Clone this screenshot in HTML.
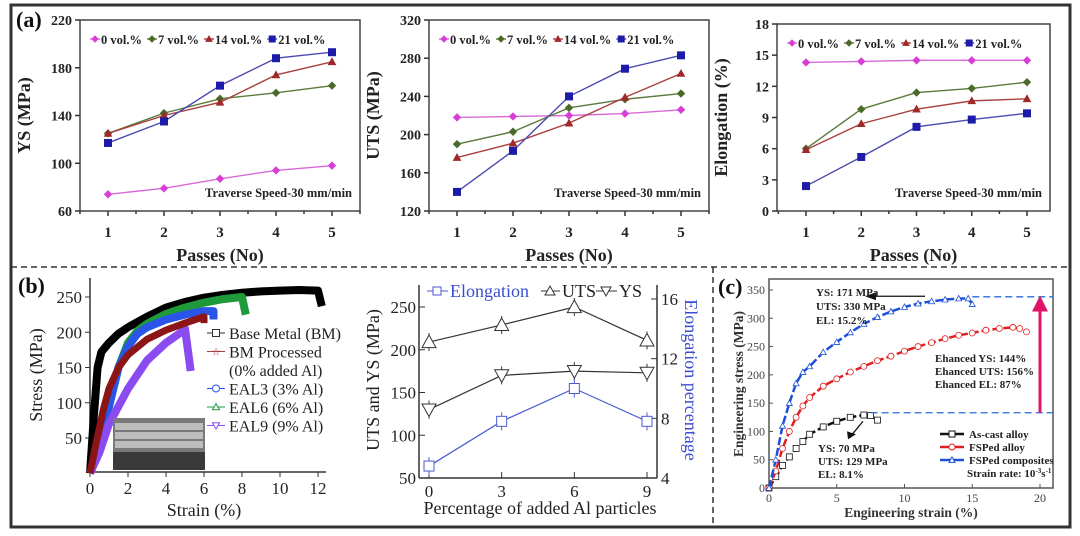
<!DOCTYPE html>
<html><head><meta charset="utf-8">
<style>
html,body{margin:0;padding:0;background:#fff;}
svg{display:block;font-family:"Liberation Serif",serif;}
</style></head>
<body>
<svg id="fig" width="1080" height="536" viewBox="0 0 1080 536" xmlns="http://www.w3.org/2000/svg">
<rect x="11" y="5" width="1059" height="522" fill="none" stroke="#333" stroke-width="3"/>
<line x1="11" y1="267" x2="1070" y2="267" stroke="#333" stroke-width="1.5" stroke-dasharray="6,4"/>
<line x1="713" y1="267" x2="713" y2="527" stroke="#333" stroke-width="1.5" stroke-dasharray="6,4"/>
<g id="root"></g>
</svg>
<script>
// ---------- Panel (a) data ----------
const passes = [1,2,3,4,5];
const seriesNames = ["0 vol.%","7 vol.%","14 vol.%","21 vol.%"];
const ys0 = [74,79,87,94,98];
const ys7 = [125,142,154,159,165];
const ys14 = [125,140,151,174,185];
const ys21 = [117,135,165,188,193];
const uts0 = [218,219,220,222,226];
const uts7 = [190,203,228,237,243];
const uts14 = [176,191,212,239,264];
const uts21 = [140,183,240,269,283];
const el0 = [14.3,14.4,14.5,14.5,14.5];
const el7 = [6.0,9.8,11.4,11.8,12.4];
const el14 = [5.9,8.4,9.8,10.6,10.8];
const el21 = [2.4,5.2,8.1,8.8,9.4];
const ysTicks = [60,100,140,180,220];
const utsTicks = [120,160,200,240,280,320];
const elTicks = [0,3,6,9,12,15,18];
// ---------- Panel (b) data ----------
const bmCurve = [[0,0],[0.2,80],[0.4,150],[0.6,172],[1,185],[1.5,198],[2,207],[3,222],[4,235],[5,243],[6,249],[7,253],[8,256],[9,258],[10,259],[11,260],[12,259],[12.2,237]];
const eal6Curve = [[0,0],[0.5,40],[1,95],[1.5,150],[2,185],[2.5,202],[3,212],[4,226],[5,235],[6,242],[7,247],[8,250],[8.2,225]];
const eal3Curve = [[0,0],[0.5,40],[1,95],[1.5,150],[2,180],[2.5,198],[3,207],[4,218],[5,225],[6,230],[6.5,230],[6.5,218]];
const bmpCurve = [[0,0],[0.3,40],[0.7,90],[1,120],[1.5,150],[2,168],[3,190],[4,203],[5,213],[6,222],[6,213]];
const eal9Curve = [[0,0],[0.5,30],[1,70],[2,120],[3,160],[4,185],[4.8,200],[5,205],[5.3,145]];
const strainTicks = [0,2,4,6,8,10,12];
const stressTicks = [50,100,150,200,250];
const alPct = [0,3,6,9];
const utsAl = [209,229,250,211];
const ysAl = [130,170,175,173];
const elAl = [4.8,7.8,10.0,7.8];
const leftTicksB = [50,100,150,200,250];
const rightTicksB = [4,8,12,16];
// ---------- Panel (c) data ----------
const compCurve = [[0,0],[0.5,50],[1,110],[1.5,150],[2,185],[2.5,205],[3,215],[4,240],[5,258],[6,275],[7,290],[8,302],[9,312],[10,320],[11,326],[12,330],[13,333],[14,335],[14.7,335],[15,325]];
const fspCurve = [[0,0],[0.5,30],[1,70],[1.5,100],[2,125],[2.5,145],[3,160],[4,180],[5,193],[6,205],[7,215],[8,225],[9,233],[10,242],[11,250],[12,257],[13,264],[14,270],[15,274],[16,279],[17,282],[18,284],[18.5,282],[19,276]];
const castCurve = [[0,0],[0.5,20],[1,40],[1.5,55],[2,70],[2.5,82],[3,95],[4,108],[5,118],[6,125],[7,129],[7.5,128],[8,120]];
const engStrainTicks = [0,5,10,15,20];
const engStressTicks = [0,50,100,150,200,250,300,350];

const NS="http://www.w3.org/2000/svg";
const root=document.getElementById('root');
function mk(tag,attrs,parent){const e=document.createElementNS(NS,tag);for(const k in attrs)e.setAttribute(k,attrs[k]);(parent||root).appendChild(e);return e;}
function txt(x,y,s,attrs,parent){const e=mk('text',Object.assign({x:x,y:y},attrs),parent);e.textContent=s;return e;}
function lin(d0,d1,r0,r1){return v=>r0+(v-d0)*(r1-r0)/(d1-d0);}
function marker(g,shape,x,y,color,size,fill){
  let e;
  if(shape==='diamond'){e=mk('path',{d:`M${x} ${y-size}L${x+size} ${y}L${x} ${y+size}L${x-size} ${y}Z`,fill:fill||color,stroke:color},g);}
  else if(shape==='square'){e=mk('rect',{x:x-size,y:y-size,width:2*size,height:2*size,fill:fill||color,stroke:color},g);}
  else if(shape==='tri'){e=mk('path',{d:`M${x} ${y-size}L${x+size} ${y+size*0.8}L${x-size} ${y+size*0.8}Z`,fill:fill||color,stroke:color},g);}
  else if(shape==='tridown'){e=mk('path',{d:`M${x} ${y+size}L${x+size} ${y-size*0.8}L${x-size} ${y-size*0.8}Z`,fill:fill||color,stroke:color},g);}
  else {e=mk('circle',{cx:x,cy:y,r:size,fill:fill||color,stroke:color},g);}
  return e;
}

// ---------- Panel (a) ----------
const aColors=['#d63fd6','#4a6a2a','#a02828','#1c1ca8'];
const aLine=['#d86ad8','#5b7a3b','#a84040','#4a4ab0'];
const aShapes=['diamond','diamond','tri','square'];
function panelA(name,box,yd,ticks,ylabel,data){
  const g=mk('g',{});
  
  
  const X=lin(1,5,box.x1,box.x5), Y=lin(yd[0],yd[1],box.b,box.t);
  const fr=mk('rect',{x:box.l,y:box.t,width:box.r-box.l,height:box.b-box.t,fill:'none',stroke:'#444','stroke-width':1.5},g);
  
  
  ticks.forEach(t=>{
    mk('line',{x1:box.l-5,x2:box.l,y1:Y(t),y2:Y(t),stroke:'#333','stroke-width':1.5},g);
    const tl=txt(box.l-8,Y(t)+5,t,{'text-anchor':'end','font-size':14,'font-weight':'bold',fill:'#222'},g);
    
    
  });
  for(let i=0;i<=10;i++){const xv=0.5+i*0.5;const xx=X(xv);if(xx<box.l-1||xx>box.r+1)continue;mk('line',{x1:xx,x2:xx,y1:box.b,y2:box.b+(i%2?5:3),stroke:'#333','stroke-width':1.5},g);}
  passes.forEach(p=>{
    const tl=txt(X(p),box.b+26,p,{'text-anchor':'middle','font-size':15,'font-weight':'bold',fill:'#222'},g);
    
    
  });
  const xt=txt((box.l+box.r)/2,box.b+50,'Passes (No)',{'text-anchor':'middle','font-size':18,'font-weight':'bold',fill:'#222'},g);
  
  
  const yx=box.l-50, yy=(box.t+box.b)/2;
  const yt=txt(yx,yy,ylabel,{'text-anchor':'middle','font-size':18,'font-weight':'bold',fill:'#222',transform:`rotate(-90 ${yx} ${yy})`},g);
  
  
  data.forEach((arr,si)=>{
    const pts=arr.map((v,i)=>`${X(passes[i])},${Y(v)}`).join(' ');
    const pl=mk('polyline',{points:pts,fill:'none',stroke:aLine[si],'stroke-width':1.4},g);
    
    
    arr.forEach((v,i)=>{const m=marker(g,aShapes[si],X(passes[i]),Y(v),aColors[si],3.5);
      
      });
  });
  let lx=box.l+10;
  seriesNames.forEach((n,si)=>{
    const lg=mk('g',{},g);
    
    
    mk('line',{x1:lx,x2:lx+10,y1:box.t+19,y2:box.t+19,stroke:aLine[si],'stroke-width':1.4},lg);
    marker(lg,aShapes[si],lx+5,box.t+19,aColors[si],3);
    const t=txt(lx+11,box.t+24,n,{'font-size':12.5,'font-weight':'bold',fill:'#222'},lg);
    lx+=11+t.getComputedTextLength()+5;
  });
  const nt=txt(box.r-8,box.b-14,'Traverse Speed-30 mm/min',{'text-anchor':'end','font-size':12.5,'font-weight':'bold',fill:'#222'},g);
  
  
}
panelA('ys-chart',{l:80,r:360,t:20,b:211,x1:108,x5:332},[60,220],ysTicks,'YS (MPa)',[ys0,ys7,ys14,ys21]);
panelA('uts-chart',{l:429,r:709,t:20,b:211,x1:457,x5:681},[120,320],utsTicks,'UTS (MPa)',[uts0,uts7,uts14,uts21]);
panelA('elongation-chart',{l:777,r:1050,t:24,b:211,x1:806,x5:1027},[0,18],elTicks,'Elongation (%)',[el0,el7,el14,el21]);
const la=txt(16,27,'(a)',{'font-size':22,'font-weight':'bold',fill:'#111'});



// ---------- Panel (b) left ----------
(function(){
  const g=mk('g',{});
  
  
  const X=lin(0,12,90,318), Y=lin(50,250,438,297);
  mk('line',{x1:90,x2:90,y1:278,y2:472,stroke:'#333','stroke-width':1.5},g);
  mk('line',{x1:88,x2:326,y1:472,y2:472,stroke:'#333','stroke-width':1.5},g);
  stressTicks.forEach(t=>{mk('line',{x1:85,x2:90,y1:Y(t),y2:Y(t),stroke:'#333'},g);
    const tl=txt(82,Y(t)+6,t,{'text-anchor':'end','font-size':17,fill:'#222'},g);
    
    });
  strainTicks.forEach(t=>{mk('line',{x1:X(t),x2:X(t),y1:472,y2:477,stroke:'#333'},g);
    const tl=txt(X(t),494,t,{'text-anchor':'middle','font-size':17,fill:'#222'},g);
    
    });
  const xt=txt(204,516,'Strain (%)',{'text-anchor':'middle','font-size':18,fill:'#222'},g);
  
  
  const yt=txt(42,375,'Stress (MPa)',{'text-anchor':'middle','font-size':18,fill:'#222',transform:'rotate(-90 42 375)'},g);
  
  
  const curves=[[bmCurve,'#000',8,'curve-base-metal'],[eal6Curve,'#1f9a3a',8,'curve-eal6'],[eal3Curve,'#2a55e8',8,'curve-eal3'],[eal9Curve,'#8a4cf0',8,'curve-eal9'],[bmpCurve,'#8c1515',7,'curve-bm-processed']];
  curves.forEach(c=>{
    const p=mk('polyline',{points:c[0].map(d=>`${X(d[0])},${Y(d[1])}`).join(' '),fill:'none',stroke:c[1],'stroke-width':c[2],'stroke-linejoin':'round'},g);
    
    
  });
  const inset=mk('g',{},g);
  
  
  mk('rect',{x:113,y:418,width:92,height:52,fill:'#7a7a7a'},inset);
  mk('rect',{x:113,y:452,width:92,height:18,fill:'#3a3a3a'},inset);
  [423,432,441].forEach(yy=>mk('rect',{x:115,y:yy,width:88,height:7,fill:'#bdbdbd'},inset));
  const leg=[['Base Metal (BM)','#333','square'],['BM Processed','#a04040','star'],['(0% added Al)',null,null],['EAL3 (3% Al)','#2a55e8','circle'],['EAL6 (6% Al)','#1f9a3a','tri'],['EAL9 (9% Al)','#8a4cf0','tridown']];
  leg.forEach((l,i)=>{
    const yy=333+i*18.5;
    const lg=mk('g',{},g);
    
    
    if(l[1]){mk('line',{x1:207,x2:225,y1:yy,y2:yy,stroke:l[1]},lg);
      if(l[2]==='star') txt(216,yy+4,'☆',{'text-anchor':'middle','font-size':11,fill:l[1]},lg);
      else marker(lg,l[2],216,yy,l[1],3.5,'#fff');}
    txt(229,yy+6,l[0],{'font-size':16,fill:'#222'},lg);
  });
  const lb=txt(18,293,'(b)',{'font-size':22,'font-weight':'bold',fill:'#111'});
  
  
})();

// ---------- Panel (b) right ----------
(function(){
  const g=mk('g',{});
  
  
  const X=lin(0,9,429,647), Y=lin(50,250,478,307), Y2=lin(4,16,478,299);
  mk('line',{x1:419,x2:419,y1:285,y2:478,stroke:'#333','stroke-width':1.5},g);
  mk('line',{x1:657,x2:657,y1:285,y2:478,stroke:'#333','stroke-width':1.5},g);
  mk('line',{x1:419,x2:657,y1:478,y2:478,stroke:'#333','stroke-width':1.5},g);
  leftTicksB.forEach(t=>{mk('line',{x1:419,x2:425,y1:Y(t),y2:Y(t),stroke:'#333'},g);
    const tl=txt(416,Y(t)+6,t,{'text-anchor':'end','font-size':17,fill:'#222'},g);
    
    });
  rightTicksB.forEach(t=>{mk('line',{x1:651,x2:657,y1:Y2(t),y2:Y2(t),stroke:'#333'},g);
    const tl=txt(661,Y2(t)+6,t,{'font-size':17,fill:'#222'},g);
    
    });
  alPct.forEach(t=>{mk('line',{x1:X(t),x2:X(t),y1:472,y2:478,stroke:'#333'},g);
    const tl=txt(X(t),497,t,{'text-anchor':'middle','font-size':17,fill:'#222'},g);
    
    });
  const xt=txt(540,514,'Percentage of added Al particles',{'text-anchor':'middle','font-size':18,fill:'#222'},g);
  
  
  const yt=txt(379,380,'UTS and YS (MPa)',{'text-anchor':'middle','font-size':18,fill:'#222',transform:'rotate(-90 379 380)'},g);
  
  
  const yt2=txt(685,380,'Elongation percentage',{'text-anchor':'middle','font-size':18,fill:'#3a4ed0',transform:'rotate(90 685 380)'},g);
  
  
  const sets=[[utsAl,Y,'#333','tri','series-uts',7],[ysAl,Y,'#333','tridown','series-ys',7],[elAl,Y2,'#4a5ad0','square','series-elongation',5]];
  sets.forEach(s=>{
    const p=mk('polyline',{points:s[0].map((v,i)=>`${X(alPct[i])},${s[1](v)}`).join(' '),fill:'none',stroke:s[2],'stroke-width':1.2},g);
    
    
    s[0].forEach((v,i)=>{const xx=X(alPct[i]),yy=s[1](v);
      mk('line',{x1:xx,x2:xx,y1:yy-9,y2:yy+9,stroke:s[2]},g);
      const m=marker(g,s[3],xx,yy,s[2],s[5],'#fff');
      
      });
  });
  const leg=mk('g',{},g);
  
  
  mk('line',{x1:427,x2:448,y1:291,y2:291,stroke:'#4a5ad0'},leg);marker(leg,'square',437,291,'#4a5ad0',4,'#fff');
  txt(450,297,'Elongation',{'font-size':18,fill:'#3a4ed0'},leg);
  mk('line',{x1:541,x2:560,y1:291,y2:291,stroke:'#333'},leg);marker(leg,'tri',550,291,'#333',5,'#fff');
  txt(562,297,'UTS',{'font-size':18,fill:'#222'},leg);
  mk('line',{x1:596,x2:617,y1:291,y2:291,stroke:'#333'},leg);marker(leg,'tridown',606,291,'#333',5,'#fff');
  txt(619,297,'YS',{'font-size':18,fill:'#222'},leg);
})();

// ---------- Panel (c) ----------
(function(){
  const g=mk('g',{});
  
  
  const X=lin(0,20,769,1040), Y=lin(0,350,488,290);
  mk('rect',{x:769,y:279,width:284,height:209,fill:'none',stroke:'#555','stroke-width':1.5},g);
  engStressTicks.forEach(t=>{mk('line',{x1:769,x2:773,y1:Y(t),y2:Y(t),stroke:'#555'},g);
    const tl=txt(765,Y(t)+4,t,{'text-anchor':'end','font-size':12,fill:'#444'},g);
    
    });
  engStrainTicks.forEach(t=>{mk('line',{x1:X(t),x2:X(t),y1:484,y2:488,stroke:'#555'},g);
    const tl=txt(X(t),502,t,{'text-anchor':'middle','font-size':12,fill:'#444'},g);
    
    });
  const xt=txt(911,517,'Engineering strain (%)',{'text-anchor':'middle','font-size':13.5,'font-weight':'bold',fill:'#333'},g);
  
  
  const yt=txt(743,384,'Engineering stress (MPa)',{'text-anchor':'middle','font-size':13.5,'font-weight':'bold',fill:'#333',transform:'rotate(-90 743 384)'},g);
  
  
  const cs=[[castCurve,'#111','square','curve-as-cast'],[fspCurve,'#e02020','circle','curve-fsped-alloy'],[compCurve,'#1d4fd8','tri','curve-fsped-composites']];
  cs.forEach(c=>{
    const p=mk('polyline',{points:c[0].map(d=>`${X(d[0])},${Y(d[1])}`).join(' '),fill:'none',stroke:c[1],'stroke-width':2.5,'stroke-dasharray':'8,3'},g);
    
    
    c[0].forEach(d=>{const m=marker(g,c[2],X(d[0]),Y(d[1]),c[1],3,'#fff');m.setAttribute('stroke-width','0.8');
      
      });
  });
  mk('line',{x1:X(15),x2:1053,y1:Y(338),y2:Y(338),stroke:'#2a6ad8','stroke-dasharray':'7,4','stroke-width':1.3},g);
  mk('line',{x1:X(7.5),x2:1053,y1:Y(133),y2:Y(133),stroke:'#2a6ad8','stroke-dasharray':'7,4','stroke-width':1.3},g);
  const ar=mk('g',{},g);
  
  
  mk('line',{x1:1040,x2:1040,y1:Y(133),y2:Y(320),stroke:'#e0156a','stroke-width':3},ar);
  mk('path',{d:`M1040 ${Y(340)}L1048 ${Y(312)}L1032 ${Y(312)}Z`,fill:'#e0156a'},ar);
  mk('line',{x1:867,x2:925,y1:Y(339),y2:Y(339),stroke:'#111','stroke-width':1.3},g);
  mk('path',{d:`M865 ${Y(339)}L876 ${Y(339)-4}L876 ${Y(339)+4}Z`,fill:'#111'},g);
  mk('line',{x1:863,x2:850,y1:Y(118),y2:Y(90),stroke:'#111','stroke-width':1.3},g);
  mk('path',{d:`M848 ${Y(86)}L847 ${Y(100)}L856 ${Y(95)}Z`,fill:'#111'},g);
  const ann=[[816,296,'YS: 171 MPa'],[816,310,'UTS: 330 MPa'],[816,324,'EL: 15.2%'],[935,362,'Ehanced YS: 144%'],[935,375,'Ehanced UTS: 156%'],[935,388,'Ehanced EL: 87%'],[818,452,'YS: 70 MPa'],[818,465,'UTS: 129 MPa'],[818,478,'EL: 8.1%']];
  ann.forEach(a=>{const t=txt(a[0],a[1],a[2],{'font-size':11,'font-weight':'bold',fill:'#222'},g);
    
    });
  const leg=[['As-cast alloy','#111','square'],['FSPed  alloy','#e02020','circle'],['FSPed composites','#1d4fd8','tri']];
  leg.forEach((l,i)=>{const yy=434+i*13;
    const lg=mk('g',{},g);
    
    
    mk('line',{x1:940,x2:964,y1:yy,y2:yy,stroke:l[1],'stroke-width':2.5},lg);
    marker(lg,l[2],952,yy,l[1],3,'#fff');
    txt(969,yy+4,l[0],{'font-size':11,'font-weight':'bold',fill:'#222'},lg);});
  const sr=mk('text',{x:967,y:477,'font-size':11,'font-weight':'bold',fill:'#222'},g);
  
  
  sr.appendChild(document.createTextNode('Strain rate: 10'));
  const s1=mk('tspan',{dy:-4,'font-size':7},sr); s1.textContent='-3';
  const s2=mk('tspan',{dy:4},sr); s2.textContent='s';
  const s3=mk('tspan',{dy:-4,'font-size':7},sr); s3.textContent='-1';
  const lc=txt(718,294,'(c)',{'font-size':22,'font-weight':'bold',fill:'#111'});
  
  
})();
</script>
</body></html>
